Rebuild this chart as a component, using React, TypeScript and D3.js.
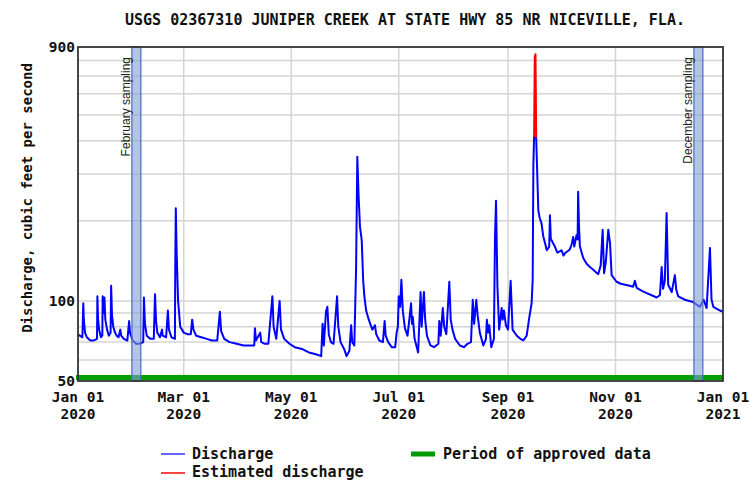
import React from "react";
import * as d3 from "d3";

const W = 750;
const H = 481;

const chartTitle = "USGS 02367310 JUNIPER CREEK AT STATE HWY 85 NR NICEVILLE, FLA.";
const yAxisTitle = "Discharge, cubic feet per second";
const yTickLabels = [50, 100, 900];
const yGridValues = [60, 70, 80, 90, 100, 200, 300, 400, 500, 600, 700, 800];
const xTickDates = ["2020-01-01", "2020-03-01", "2020-05-01", "2020-07-01", "2020-09-01", "2020-11-01", "2021-01-01"];
const approvedPeriod = ["2020-01-01", "2021-01-01"];
const samplingPeriods = [
  { label: "February sampling", start: "2020-01-31T14:00", end: "2020-02-05T16:00" },
  { label: "December sampling", start: "2020-12-15T12:00", end: "2020-12-20T14:00" },
];
const legendItems = ["Discharge", "Estimated discharge", "Period of approved data"];

// [day of year 2020 (0 = Jan 01), discharge cfs]
const discharge: [number, number][] = [
  [0, 75], [1, 74], [2.5, 73], [3, 98], [3.3, 85], [4, 76], [5, 73], [7, 71], [9, 71], [10.8, 72],
  [11, 104], [11.4, 85], [12, 78], [13, 73], [13.8, 74], [14, 104], [14.5, 90], [15, 103], [15.5, 85],
  [16.5, 78], [17.5, 74], [18.5, 76], [18.8, 114], [19.3, 88], [20, 80], [21, 76], [22, 74], [23, 73],
  [24, 78], [24.5, 74], [26, 72], [28, 71], [29, 84], [29.5, 76], [31, 71], [33, 69], [35, 69], [37, 70],
  [37.4, 103], [38, 82], [39, 74], [41, 72], [43, 72], [43.7, 106], [44.3, 84], [45, 76], [46.5, 73],
  [47.7, 78], [48, 74], [50, 73], [51, 92], [51.6, 78], [53, 73], [55, 72], [55.2, 136], [55.5, 223],
  [56, 150], [56.8, 100], [58, 80], [60, 76], [62, 75], [64, 75], [64.8, 85], [65.5, 78], [67, 74],
  [70, 73], [73, 72], [76, 71], [79, 71], [80.5, 91], [81.2, 77], [83, 72], [86, 70], [90, 69], [94, 68],
  [97, 68], [100, 68], [100.4, 79], [101, 71], [103.4, 76], [104, 70], [106, 69], [108, 69], [110.3, 104],
  [111, 80], [112.5, 72], [114.4, 100], [115.2, 78], [117, 72], [120, 69], [123, 67], [127, 66], [131, 64],
  [135, 63], [138, 62], [138.8, 82], [139.5, 68], [140.7, 91], [141.5, 95], [142.3, 75], [143.5, 70],
  [145, 69], [147, 104], [147.7, 80], [149, 70], [151, 66], [152.4, 62], [154, 65], [155, 81], [155.6, 70],
  [156.8, 68], [157.8, 133], [158.5, 348], [159.2, 250], [160, 190], [161, 169], [161.8, 120], [162.5, 104],
  [163.5, 92], [165, 85], [167, 78], [168.5, 81], [169.2, 75], [171, 71], [173, 70], [174, 84], [174.6, 74],
  [176, 70], [178, 67], [180, 67], [180.8, 76], [181.5, 80], [182, 104], [182.8, 95], [183.5, 120],
  [184.3, 92], [185.5, 79], [187, 74], [189, 98], [189.5, 82], [190, 87], [191, 72], [193, 64], [194.4, 108],
  [195, 80], [196.3, 108], [197, 85], [198, 74], [200, 68], [202, 67], [204.5, 69], [205, 84], [205.8, 74],
  [207, 94], [207.8, 80], [209, 75], [210.7, 118], [211.5, 85], [212.5, 78], [214, 72], [216.7, 68],
  [219, 67], [221, 69], [223, 70], [224, 101], [224.8, 82], [226, 101], [226.8, 88], [228, 76], [230, 68],
  [231.5, 72], [232, 85], [232.8, 76], [233.4, 81], [234.5, 67], [236, 72], [236.6, 171], [237.2, 238],
  [238, 113], [239, 78], [240.4, 94], [241, 85], [241.7, 92], [242.8, 81], [244, 78], [245.5, 119],
  [246.6, 78], [249, 74], [251, 72], [252.7, 71], [254.6, 74], [256, 86], [257.4, 98], [258, 120],
  [258.4, 325], [258.8, 414],
  [260, 410], [260.6, 300], [261.2, 219], [262, 205], [263, 196], [264, 175], [265, 165], [266, 155],
  [267.4, 160], [267.8, 210], [268.3, 170], [268.8, 169], [269.5, 165], [270.6, 160], [272, 152],
  [274.4, 155], [275.5, 148], [276.3, 151], [278, 154], [279, 156], [280, 162], [281, 174], [281.6, 160],
  [282.9, 177], [283.5, 170], [283.8, 257], [284.3, 190], [284.8, 160], [286.7, 145], [288.6, 138],
  [290.5, 134], [292.4, 131], [294, 128], [295.2, 126], [296.6, 136], [297.7, 185], [298.5, 127],
  [299.5, 140], [300.9, 185], [301.9, 165], [302.8, 125], [305.6, 118], [308, 116], [310.4, 115],
  [313, 114], [315, 113], [316, 119], [317, 112], [320, 109], [322.7, 107], [325.5, 105], [328.3, 103],
  [330.2, 105], [331.2, 134], [332, 111], [333, 119], [334, 214], [334.9, 115], [336.9, 108], [338.7, 125],
  [339.5, 110], [340.6, 104], [344.4, 101], [349, 99], [352.9, 95], [355, 101], [356.7, 94], [358.6, 158],
  [359.5, 101], [360.5, 95], [364.3, 92], [366, 91],
];

const estimatedDischarge: [number, number][] = [
  [258.8, 414], [259.2, 830], [259.6, 845], [260, 410],
];

const MONO = "'DejaVu Sans Mono', monospace";
const SANS = "'Liberation Sans', Arial, sans-serif";

const utc = (s: string) => new Date(s + (s.length === 10 ? "T00:00:00Z" : ":00Z"));
const dayToDate = (d: number) => new Date(Date.UTC(2020, 0, 1) + d * 86400000);

export default function App() {
  const left = 78, right = 723, top = 47, bottom = 381;
  const x = d3.scaleUtc().domain([utc(xTickDates[0]), utc(xTickDates[xTickDates.length - 1])]).range([left, right]);
  const y = d3.scaleLog().domain([50, 900]).range([bottom, top]);

  const line = d3.line<[number, number]>()
    .x((d) => x(dayToDate(d[0])))
    .y((d) => y(d[1]));

  const fmtMD = d3.utcFormat("%b %d");
  const fmtY = d3.utcFormat("%Y");

  return (
    <svg width={W} height={H} style={{ position: "absolute", left: 0, top: 0, background: "#fff" }}>
      <rect x={0} y={0} width={W} height={H} fill="#fff" />
      <text x={405} y={25} textAnchor="middle" fontFamily={MONO} fontWeight="bold" fontSize={15} fill="#111">
        {chartTitle}
      </text>

      {/* grid */}
      {yGridValues.map((v) => (
        <line key={"gy" + v} x1={left} x2={right} y1={y(v)} y2={y(v)} stroke="#d4d4d4" strokeWidth={1.5} />
      ))}
      {xTickDates.slice(1, -1).map((d) => (
        <line key={"gx" + d} x1={x(utc(d))} x2={x(utc(d))} y1={top} y2={bottom} stroke="#d4d4d4" strokeWidth={1.5} />
      ))}

      {/* approved data bar */}
      <line x1={x(utc(approvedPeriod[0])) - 2} x2={x(utc(approvedPeriod[1]))} y1={bottom - 3.5} y2={bottom - 3.5}
        stroke="#00a000" strokeWidth={5} />

      {/* data */}
      <path d={line(discharge) || ""} fill="none" stroke="#0000ff" strokeWidth={2} strokeLinejoin="round" />
      <path d={line(estimatedDischarge) || ""} fill="none" stroke="#ff0000" strokeWidth={2} strokeLinejoin="round" />

      {/* sampling bands */}
      {samplingPeriods.map((s) => {
        const x0 = x(utc(s.start));
        const x1 = x(utc(s.end));
        return (
          <g key={s.label}>
            <rect x={x0} y={top} width={x1 - x0} height={bottom - top} fill="#7f9fd6" fillOpacity={0.6}
              stroke="#4a6db5" strokeWidth={1.2} />
            <text transform={`translate(${x0 - 2},${top + 10}) rotate(-90)`} textAnchor="end"
              fontFamily={SANS} fontSize={12} fill="#222">
              {s.label}
            </text>
          </g>
        );
      })}

      {/* border */}
      <rect x={left} y={top} width={right - left} height={bottom - top} fill="none" stroke="#333" strokeWidth={1.8} />

      {/* y tick labels */}
      {yTickLabels.map((v) => (
        <text key={"yl" + v} x={left - 3} y={y(v) + 5} textAnchor="end" fontFamily={MONO} fontWeight="bold"
          fontSize={14.5} fill="#111">
          {v}
        </text>
      ))}

      {/* x tick labels */}
      {xTickDates.map((d) => {
        const dt = utc(d);
        return (
          <g key={"xl" + d}>
            <text x={x(dt)} y={402} textAnchor="middle" fontFamily={MONO} fontWeight="bold" fontSize={14.5} fill="#111">
              {fmtMD(dt)}
            </text>
            <text x={x(dt)} y={419} textAnchor="middle" fontFamily={MONO} fontWeight="bold" fontSize={14.5} fill="#111">
              {fmtY(dt)}
            </text>
          </g>
        );
      })}

      {/* y axis title */}
      <text transform={`translate(32,198) rotate(-90)`} textAnchor="middle" fontFamily={MONO} fontWeight="bold"
        fontSize={14} fill="#111">
        {yAxisTitle}
      </text>

      {/* legend */}
      <line x1={161} x2={185} y1={454} y2={454} stroke="#6666ff" strokeWidth={2} />
      <text x={192} y={459} fontFamily={MONO} fontWeight="bold" fontSize={15} fill="#111">{legendItems[0]}</text>
      <line x1={161} x2={185} y1={473} y2={473} stroke="#ff4444" strokeWidth={2} />
      <text x={192} y={477} fontFamily={MONO} fontWeight="bold" fontSize={15} fill="#111">{legendItems[1]}</text>
      <line x1={411} x2={435} y1={454} y2={454} stroke="#009900" strokeWidth={5} />
      <text x={443} y={459} fontFamily={MONO} fontWeight="bold" fontSize={15} fill="#111">{legendItems[2]}</text>
    </svg>
  );
}
